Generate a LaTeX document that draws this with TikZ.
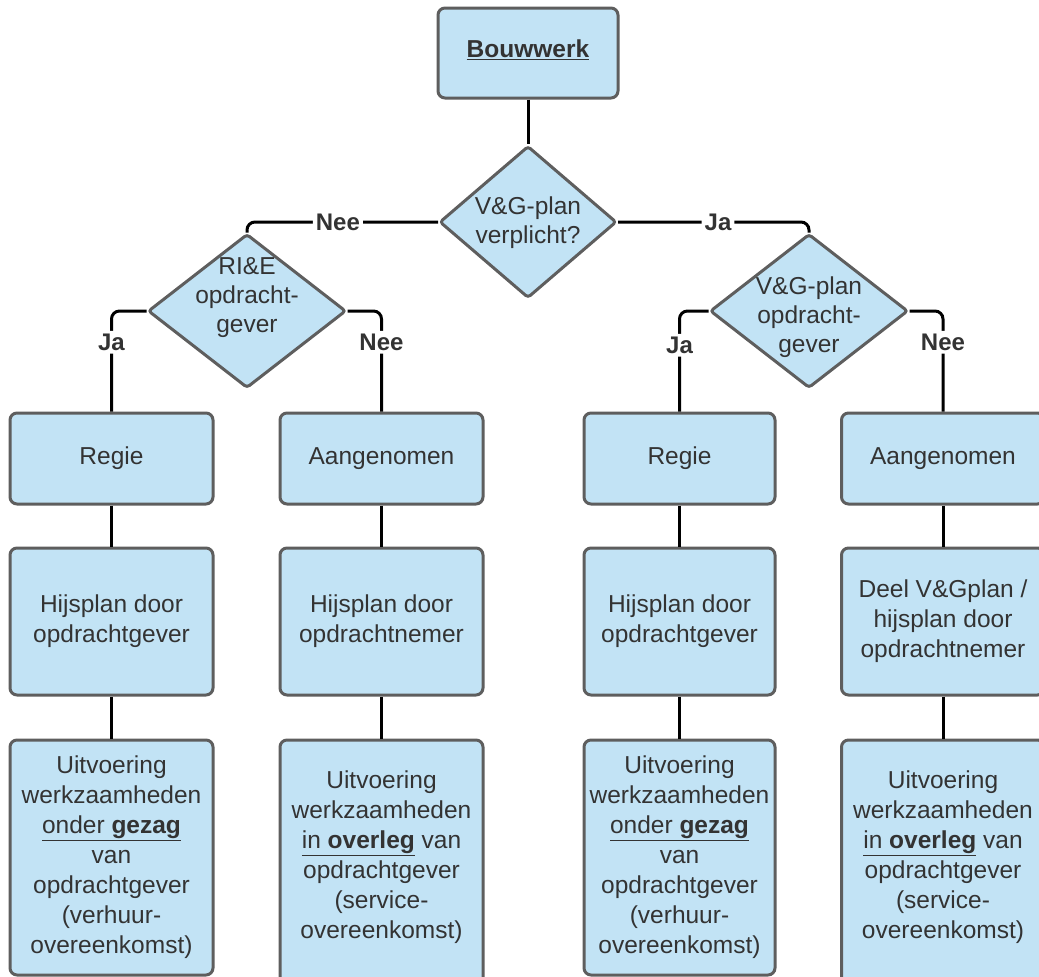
\documentclass[tikz,border=0pt]{standalone}
\usepackage{fontspec}
\setmainfont{Liberation Sans}
\usetikzlibrary{shapes.geometric}
\definecolor{vakblauw}{RGB}{194,227,245}
\definecolor{randgrijs}{RGB}{94,94,94}
\definecolor{tekstgrijs}{RGB}{51,51,51}
\tikzset{
	vak/.style={draw=randgrijs, line width=3pt, fill=vakblauw, rounded corners=7pt,
		inner sep=0pt, text=tekstgrijs, align=center,
		font=\fontsize{24.5}{30}\selectfont},
	ruit/.style={diamond, draw=randgrijs, line width=3pt, fill=vakblauw,
		rounded corners=3pt, inner sep=0pt},
	tekst/.style={text=tekstgrijs, align=center, inner sep=0pt,
		font=\fontsize{24.5}{29}\selectfont},
	keuze/.style={text=tekstgrijs, fill=white, inner sep=3pt,
		font=\fontsize{24}{28}\selectfont\bfseries},
	lijn/.style={draw=black, line width=3pt, rounded corners=8pt}
}
\begin{document}
\begin{tikzpicture}[x=1pt, y=-1pt]
	\useasboundingbox (0,0) rectangle (1039,977);
	% Bovenste vak
	\node[vak, minimum width=180pt, minimum height=90pt] (bouw) at (528,53) {};
	\node[tekst] (bouwtxt) at (528,50) {\underline{\textbf{Bouwwerk}}};
	% Keuzes
	\node[ruit, minimum width=177pt, minimum height=152pt] (vg) at (528,222) {};
	\node[tekst] (vgtxt) at (528,223) {V\&G-plan\\verplicht?};
	\node[ruit, minimum width=198pt, minimum height=154pt] (rie) at (247,311) {};
	\node[tekst] (rietxt) at (247,298) {RI\&E\\opdracht-\\gever};
	\node[ruit, minimum width=198pt, minimum height=154pt] (vgog) at (809,311) {};
	\node[tekst] (vgogtxt) at (809,317) {V\&G-plan\\opdracht-\\gever};
	% Contractvorm
	\node[vak, minimum width=203pt, minimum height=91pt] (regieA) at (111.5,458.5) {Regie};
	\node[vak, minimum width=203pt, minimum height=91pt] (aangA) at (381.5,458.5) {Aangenomen};
	\node[vak, minimum width=191pt, minimum height=91pt] (regieB) at (679.5,458.5) {Regie};
	\node[vak, minimum width=203pt, minimum height=91pt] (aangB) at (943,458.5) {Aangenomen};
	% Hijsplan
	\node[vak, minimum width=203pt, minimum height=147pt] (hijsA) at (111.5,621.5)
		{Hijsplan door\\opdrachtgever};
	\node[vak, minimum width=203pt, minimum height=147pt] (hijsB) at (381.5,621.5)
		{Hijsplan door\\opdrachtnemer};
	\node[vak, minimum width=191pt, minimum height=147pt] (hijsC) at (679.5,621.5)
		{Hijsplan door\\opdrachtgever};
	\node[vak, minimum width=203pt, minimum height=147pt] (hijsD) at (943,621.5)
		{Deel V\&Gplan /\\hijsplan door\\opdrachtnemer};
	% Uitvoering
	\node[vak, minimum width=203pt, minimum height=235pt] (uitA) at (111.5,857.5)
		{Uitvoering\\werkzaamheden\\\underline{onder \textbf{gezag}}\\van\\opdrachtgever\\(verhuur-\\overeenkomst)};
	\node[vak, minimum width=203pt, minimum height=270pt] (uitB) at (381.5,875) {};
	\node[tekst, font=\fontsize{24.5}{30}\selectfont] (uitBtxt) at (381.5,857)
		{Uitvoering\\werkzaamheden\\\underline{in \textbf{overleg}} van\\opdrachtgever\\(service-\\overeenkomst)};
	\node[vak, minimum width=191pt, minimum height=235pt] (uitC) at (679.5,857.5)
		{Uitvoering\\werkzaamheden\\\underline{onder \textbf{gezag}}\\van\\opdrachtgever\\(verhuur-\\overeenkomst)};
	\node[vak, minimum width=203pt, minimum height=270pt] (uitD) at (943,875) {};
	\node[tekst, font=\fontsize{24.5}{30}\selectfont] (uitDtxt) at (943,857)
		{Uitvoering\\werkzaamheden\\\underline{in \textbf{overleg}} van\\opdrachtgever\\(service-\\overeenkomst)};
	% Verbindingen
	\draw[lijn] (bouw) -- (vg);
	\draw[lijn] (vg.west) -| node[keuze, pos=0.262] {Nee} (rie.north);
	\draw[lijn] (vg.east) -| node[keuze, pos=0.262] {Ja} (vgog.north);
	\draw[lijn] (rie.west) -| node[keuze, pos=0.655] {Ja} (regieA.north);
	\draw[lijn] (rie.east) -| node[keuze, pos=0.655] {Nee} (aangA.north);
	\draw[lijn] (vgog.west) -| node[keuze, pos=0.67] {Ja} (regieB.north);
	\draw[lijn] (vgog.east) -| node[keuze, pos=0.655] {Nee} (aangB.north);
	\foreach \boven/\onder in {regieA/hijsA, aangA/hijsB, regieB/hijsC, aangB/hijsD,
		hijsA/uitA, hijsB/uitB, hijsC/uitC, hijsD/uitD}
		\draw[lijn] (\boven) -- (\onder);
\end{tikzpicture}
\end{document}
